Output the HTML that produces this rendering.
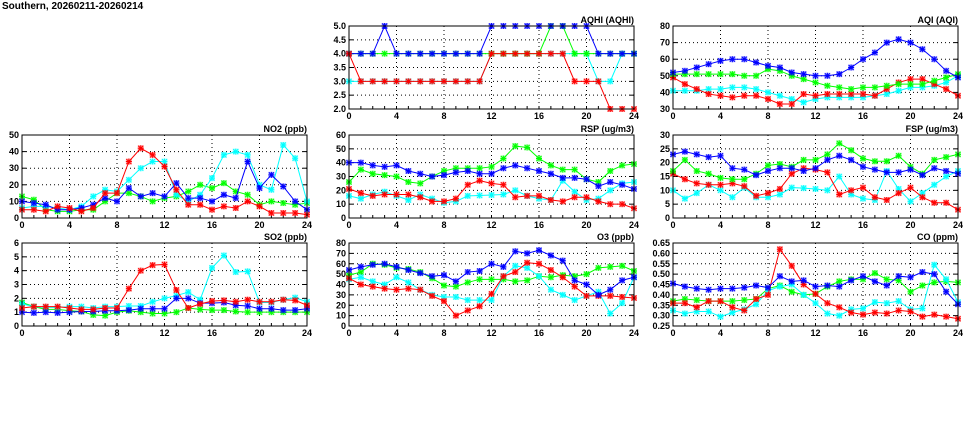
<!DOCTYPE html>
<html><head><meta charset="utf-8"><style>
html,body{margin:0;padding:0;background:#fff;width:975px;height:447px;overflow:hidden}
svg{display:block}
text{font-family:"Liberation Sans",sans-serif;font-weight:bold;font-size:9px;fill:#000}
</style></head><body>
<svg id="s" width="975" height="447" xmlns="http://www.w3.org/2000/svg">
<text x="2" y="9" style="font-size:10px">Southern, 20260211-20260214</text>
</svg>
<script>
const C={r:"#ff0000",c:"#00ffff",g:"#00ff00",b:"#0000ff"};
const P=[
{t:"AQHI (AQHI)",x:349,y:26,min:2,max:5,st:0.5,fx:1,d:{
c:[3,3,3,3,3,3,3,3,3,3,3,3,4,4,4,4,4,4,4,4,4,3,3,4,4],
g:[4,4,4,4,4,4,4,4,4,4,4,4,4,4,4,4,4,5,5,4,4,4,4,4,4],
b:[4,4,4,5,4,4,4,4,4,4,4,4,5,5,5,5,5,5,5,5,5,4,4,4,4],
r:[4,3,3,3,3,3,3,3,3,3,3,3,4,4,4,4,4,4,4,3,3,3,2,2,2]}},
{t:"AQI (AQI)",x:673,y:26,min:30,max:80,st:10,fx:0,d:{
c:[41,41,41,42,42,43,43,42,40,38,36,34,36,37,37,37,37,38,39,41,43,43,44,46,50],
r:[49,45,42,39,38,37,38,38,36,33,33,39,38,39,39,39,39,38,42,46,48,48,45,42,38],
g:[51,51,51,51,51,51,50,50,54,53,50,48,46,44,43,42,43,43,44,45,45,45,47,49,51],
b:[52,53,55,57,59,60,60,58,56,55,52,51,50,50,51,55,60,64,70,72,70,66,60,53,49]}},
{t:"NO2 (ppb)",x:22,y:135,min:0,max:50,st:10,fx:0,d:{
g:[13,11,5,4,4,5,5,10,15,15,13,10,12,13,16,20,18,21,16,14,8,10,9,8,9],
c:[6,7,7,6,5,7,13,17,16,23,30,34,34,14,10,14,24,38,40,38,20,17,44,36,10],
b:[10,9,8,5,5,6,8,12,10,18,13,15,13,21,12,12,10,14,12,34,18,26,19,10,5],
r:[5,5,4,7,6,4,6,15,15,34,42,38,31,17,8,8,5,7,6,10,7,3,3,3,2]}},
{t:"RSP (ug/m3)",x:349,y:135,min:0,max:60,st:10,fx:0,d:{
c:[16,14,17,19,16,13,17,14,11,12,16,16.3,16.6,17,20,16,14,13,27,19,13,14,20,25,26],
r:[21,18,16,17,17,17,15,12,12,14,24,27,25,24,15,16,16,13,12,15,15,12,10,10,7],
g:[26,35,32,31,30,26,25,30,34,36,36,36,37,43,52,51,43,38,35,35,28,26,34,38,39],
b:[40,40,38,37,38,34,32,30,31,33,34,32,32,36,38,36,34,32,29,29,28,23,26,24,21]}},
{t:"FSP (ug/m3)",x:673,y:135,min:0,max:30,st:5,fx:0,d:{
c:[10,7,9,12,10,7.5,11,7.5,7.5,8.5,11,10.8,10.5,10,15,8.5,7,6.5,17,10.5,6,9,12,15,17],
r:[16,14,12.5,12,12,12.5,11.5,8,9,10.5,16,18,17.5,16.5,8.5,10,11,7.5,6.5,9,11,7.5,5.5,5.5,3],
g:[17,21,17,16,14.5,14,14,16,19,19.5,18.5,21,21,23,27,24.5,21.5,20.5,20.5,22.5,18.5,16,21,22,23],
b:[23,24,23,22,22.5,18,17.5,15.5,17,18,18,17,18,21,22.5,21,18.5,17.5,16.5,16.5,17.5,15.5,18,17,16]}},
{t:"SO2 (ppb)",x:22,y:243,min:0,max:6,st:1,fx:0,d:{
g:[1.7,1.4,1.2,1.2,1.1,1.05,0.8,0.75,1.0,1.1,1.0,0.9,0.9,1.0,1.3,1.2,1.15,1.15,1.05,1.0,1.0,1.0,1.0,1.0,1.0],
c:[1.6,1.4,1.35,1.35,1.4,1.4,1.3,1.4,1.4,1.45,1.45,1.75,2.0,2.2,2.45,1.9,4.2,5.1,3.9,3.95,1.7,1.7,1.9,2.05,1.75],
b:[1.0,0.95,1.0,0.95,1.0,1.05,1.05,1.1,1.1,1.15,1.25,1.25,1.25,2.0,2.0,1.65,1.65,1.7,1.5,1.45,1.25,1.25,1.15,1.15,1.25],
r:[1.3,1.4,1.4,1.4,1.3,1.2,1.2,1.3,1.3,2.7,4.0,4.4,4.45,2.6,1.3,1.6,1.8,1.85,1.75,1.9,1.75,1.75,1.9,1.85,1.5]}},
{t:"O3 (ppb)",x:349,y:243,min:0,max:80,st:10,fx:0,d:{
g:[49,52,60,59,56,55,52,46,39,38,42,45,45,45,43,44,48,47,49,48,50,56,57,58,53],
c:[45,47,43,40,47,42,35,30,28,28,25,25,25,48,58,56,48,35,30,25,29,33,12,22,47],
r:[46,40,38,36,35,36,35,29,24,10,15,19,31,48,52,61,60,54,47,38,29,29,29,28,27],
b:[54,57,59,60,57,54,51,48,49,43,52,53,60,57,72,70,73,68,63,44,40,30,35,44,47]}},
{t:"CO (ppm)",x:673,y:243,min:0.25,max:0.65,st:0.05,fx:2,d:{
g:[.37,.38,.375,.37,.37,.37,.375,.38,.43,.445,.415,.40,.405,.44,.465,.475,.475,.505,.475,.47,.415,.445,.46,.465,.46],
c:[.325,.31,.32,.32,.295,.315,.33,.355,.42,.44,.45,.40,.36,.31,.30,.33,.335,.365,.36,.37,.33,.335,.545,.475,.365],
r:[.36,.36,.34,.37,.37,.34,.325,.38,.40,.62,.54,.45,.405,.36,.34,.315,.305,.315,.31,.325,.32,.295,.305,.295,.285],
b:[.455,.44,.43,.425,.43,.43,.435,.445,.435,.49,.465,.47,.44,.445,.44,.47,.49,.465,.445,.49,.485,.51,.50,.415,.355]}}
];
const W=285,H=83;let o="";
for(const p of P){
 const X=i=>p.x+i*W/24, Y=v=>p.y+H-(v-p.min)/(p.max-p.min)*H;
 const n=Math.round((p.max-p.min)/p.st);
 for(let k=0;k<=n;k++){const v=p.min+k*p.st,y=Y(v);
  if(k>0&&k<n)o+=`<line x1="${p.x}" y1="${y}" x2="${p.x+W}" y2="${y}" stroke="#000" stroke-width="1" stroke-dasharray="1,3"/>`;
  o+=`<line x1="${p.x}" y1="${y}" x2="${p.x+4}" y2="${y}" stroke="#000"/><line x1="${p.x+W-4}" y1="${y}" x2="${p.x+W}" y2="${y}" stroke="#000"/>`;
  let lab=p.fx==2?v.toFixed(2):(p.fx==1?v.toFixed(1):String(Math.round(v)));
  o+=`<text x="${p.x-3}" y="${y+3}" text-anchor="end">${lab}</text>`;}
 for(let h=0;h<=24;h+=4){const x=X(h);
  if(h>0&&h<24)o+=`<line x1="${x}" y1="${p.y}" x2="${x}" y2="${p.y+H}" stroke="#000" stroke-dasharray="1,3"/>`;
  o+=`<text x="${x}" y="${p.y+H+10}" text-anchor="middle">${h}</text>`;}
 for(let h=0;h<=24;h++){o+=`<line x1="${X(h)}" y1="${p.y+H}" x2="${X(h)}" y2="${p.y+H-3}" stroke="#000"/>`;}
 for(const k in p.d){const a=p.d[k];
  o+=`<polyline fill="none" stroke="${C[k]}" stroke-width="1" points="${a.map((v,i)=>X(i)+","+Y(v)).join(" ")}"/>`;
  a.forEach((v,i)=>{const x=X(i),y=Y(v);
   o+=`<rect x="${x-3}" y="${y-3}" width="6" height="6" fill="${C[k]}" opacity="0.35"/><path d="M${x-3} ${y}h6M${x} ${y-3}v6M${x-2.5} ${y-2.5}l5 5M${x+2.5} ${y-2.5}l-5 5" stroke="${C[k]}" stroke-width="1"/>`;});}
 o+=`<rect x="${p.x}" y="${p.y}" width="${W}" height="${H}" fill="none" stroke="#000" stroke-width="1"/>`;
 o+=`<text x="${p.x+W}" y="${p.y-3}" text-anchor="end">${p.t}</text>`;
}
document.getElementById("s").insertAdjacentHTML("beforeend",o);
</script>
</body></html>
